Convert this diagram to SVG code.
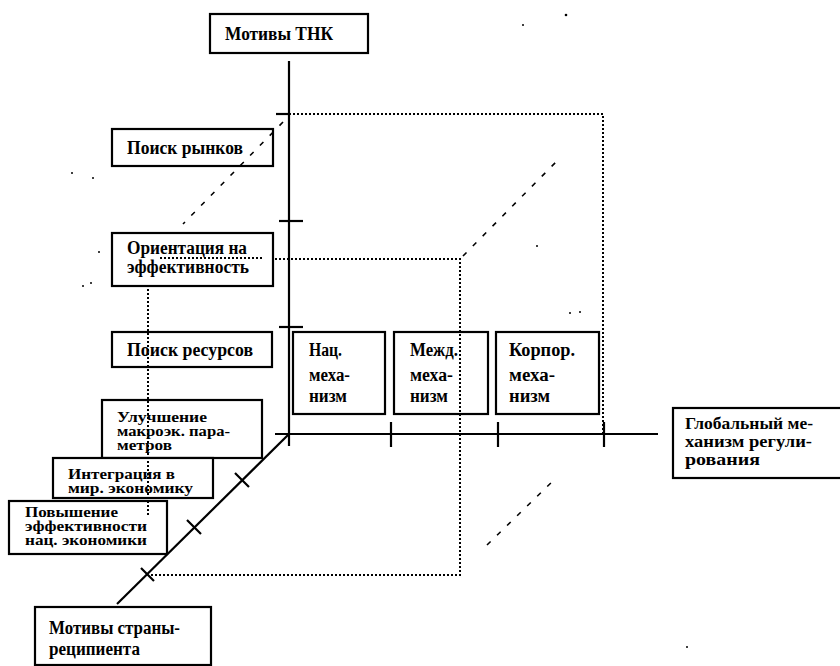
<svg xmlns="http://www.w3.org/2000/svg" width="840" height="666" viewBox="0 0 840 666">
<style>
.box{fill:#fff;stroke:#000;stroke-width:2.2}
.t{font-family:"Liberation Serif","DejaVu Serif",serif;font-size:18px;font-weight:bold;fill:#000}
.s{font-size:14px}
.g{font-size:16.5px}
.axis{stroke:#000;stroke-width:2.2;fill:none}
.dot{stroke:#000;stroke-width:2;fill:none;stroke-dasharray:2 2}
.dash{stroke:#000;stroke-width:1.6;fill:none;stroke-dasharray:5 9}
.speck{fill:#000}
</style>
<rect width="840" height="666" fill="#fff"/>
<g id="n-tnk"><rect class="box" x="210" y="14" width="158" height="39"/><text class="t" x="225" y="40" textLength="108" lengthAdjust="spacingAndGlyphs">Мотивы ТНК</text></g>
<g id="n-markets"><rect class="box" x="112" y="129" width="161" height="37"/><text class="t" x="127" y="154" textLength="116" lengthAdjust="spacingAndGlyphs">Поиск рынков</text></g>
<g id="n-efficiency"><rect class="box" x="112" y="233" width="161" height="53"/><text class="t" x="127" y="254" textLength="120" lengthAdjust="spacingAndGlyphs">Ориентация на</text><text class="t" x="127" y="273" textLength="122" lengthAdjust="spacingAndGlyphs">эффективность</text></g>
<g id="n-resources"><rect class="box" x="112" y="332" width="160" height="35"/><text class="t" x="127" y="356" textLength="126" lengthAdjust="spacingAndGlyphs">Поиск ресурсов</text></g>
<g id="n-macro"><rect class="box" x="102" y="400" width="160" height="58"/><text class="t s" x="117" y="422" textLength="90" lengthAdjust="spacingAndGlyphs">Улучшение</text><text class="t s" x="117" y="436" textLength="113" lengthAdjust="spacingAndGlyphs">макроэк. пара-</text><text class="t s" x="117" y="450" textLength="55" lengthAdjust="spacingAndGlyphs">метров</text></g>
<g id="n-integration"><rect class="box" x="53" y="458" width="160" height="40"/><text class="t s" x="68" y="479" textLength="107" lengthAdjust="spacingAndGlyphs">Интеграция в</text><text class="t s" x="68" y="493" textLength="125" lengthAdjust="spacingAndGlyphs">мир. экономику</text></g>
<g id="n-national"><rect class="box" x="9" y="501" width="158" height="53"/><text class="t s" x="25" y="517" textLength="93" lengthAdjust="spacingAndGlyphs">Повышение</text><text class="t s" x="25" y="531" textLength="122" lengthAdjust="spacingAndGlyphs">эффективности</text><text class="t s" x="25" y="545" textLength="122" lengthAdjust="spacingAndGlyphs">нац. экономики</text></g>
<g id="n-recipient"><rect class="box" x="35" y="607" width="176" height="58"/><text class="t" x="49" y="634" textLength="131" lengthAdjust="spacingAndGlyphs">Мотивы страны-</text><text class="t" x="49" y="655" textLength="91" lengthAdjust="spacingAndGlyphs">реципиента</text></g>
<g id="n-nat-mech"><rect class="box" x="293" y="332" width="92" height="82"/><text class="t" x="309" y="356" textLength="33" lengthAdjust="spacingAndGlyphs">Нац.</text><text class="t" x="309" y="381" textLength="41" lengthAdjust="spacingAndGlyphs">меха-</text><text class="t" x="309" y="402" textLength="38" lengthAdjust="spacingAndGlyphs">низм</text></g>
<g id="n-int-mech"><rect class="box" x="394" y="332" width="94" height="82"/><text class="t" x="410" y="356" textLength="48" lengthAdjust="spacingAndGlyphs">Межд.</text><text class="t" x="410" y="381" textLength="43" lengthAdjust="spacingAndGlyphs">меха-</text><text class="t" x="410" y="402" textLength="38" lengthAdjust="spacingAndGlyphs">низм</text></g>
<g id="n-corp-mech"><rect class="box" x="496" y="332" width="103" height="82"/><text class="t" x="509" y="356" textLength="66" lengthAdjust="spacingAndGlyphs">Корпор.</text><text class="t" x="509" y="381" textLength="46" lengthAdjust="spacingAndGlyphs">меха-</text><text class="t" x="509" y="402" textLength="41" lengthAdjust="spacingAndGlyphs">низм</text></g>
<g id="n-global"><rect class="box" x="673" y="408" width="170" height="70"/><text class="t g" x="685" y="429" textLength="128" lengthAdjust="spacingAndGlyphs">Глобальный ме-</text><text class="t g" x="685" y="447" textLength="127" lengthAdjust="spacingAndGlyphs">ханизм регули-</text><text class="t g" x="685" y="465" textLength="75" lengthAdjust="spacingAndGlyphs">рования</text></g>
<g id="connectors">
  <line class="axis" x1="289" y1="61" x2="289" y2="446"/>
  <line class="axis" x1="275" y1="434" x2="658" y2="434"/>
  <line class="axis" x1="289" y1="434" x2="117" y2="604"/>
  <line class="axis" x1="276" y1="114" x2="289" y2="114"/>
  <line class="axis" x1="279" y1="221" x2="303" y2="221"/>
  <line class="axis" x1="279" y1="327" x2="303" y2="327"/>
  <line class="axis" x1="391" y1="422" x2="391" y2="447"/>
  <line class="axis" x1="498" y1="422" x2="498" y2="447"/>
  <line class="axis" x1="604" y1="422" x2="604" y2="447"/>
  <path class="axis" d="M235,473 L249,487 M187,520 L201,534 M141,568 L154,581"/>
  <polyline class="dot" points="289,114 603,114 603,434"/>
  <polyline class="dot" points="275,259 460,259 460,575 150,575"/>
  <line class="dot" x1="160" y1="258" x2="262" y2="258"/>
  <line class="dot" x1="148" y1="289" x2="148" y2="515"/>
  <line class="dash" x1="283" y1="122" x2="183" y2="224"/>
  <line class="dash" x1="463" y1="256" x2="556" y2="162"/>
  <line class="dash" x1="487" y1="545" x2="556" y2="478"/>
</g>
<g id="specks">
  <circle class="speck" cx="72" cy="173" r="1"/>
  <circle class="speck" cx="93" cy="178" r="1"/>
  <circle class="speck" cx="99" cy="252" r="1"/>
  <circle class="speck" cx="83" cy="286" r="1"/>
  <circle class="speck" cx="91" cy="283" r="1"/>
  <circle class="speck" cx="523" cy="25" r="1"/>
  <circle class="speck" cx="566" cy="15" r="1.3"/>
  <circle class="speck" cx="537" cy="246" r="1"/>
  <circle class="speck" cx="570" cy="313" r="1"/>
  <circle class="speck" cx="580" cy="312" r="1"/>
  <circle class="speck" cx="687" cy="647" r="1"/>
</g>
</svg>
